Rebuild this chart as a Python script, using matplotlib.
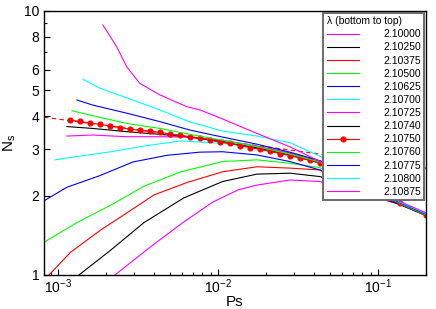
import matplotlib
matplotlib.use('Agg')
import matplotlib.pyplot as plt
from matplotlib.ticker import FixedLocator, NullFormatter, LogLocator

plt.rcParams['font.family'] = ['Liberation Sans', 'DejaVu Sans']
plt.rcParams['mathtext.default'] = 'regular'

# ---------------- data ----------------
lambdas = ['2.10000', '2.10250', '2.10375', '2.10500', '2.10625', '2.10700',
           '2.10725', '2.10740', '2.10750', '2.10760', '2.10775', '2.10800',
           '2.10875']
colors = ['#ff00ff', '#000000', '#ff0000', '#00ff00', '#0000ff', '#00ffff',
          '#ff00ff', '#000000', '#ff0000', '#00ff00', '#0000ff', '#00ffff',
          '#ff00ff']

x_10000 = [2.27e-3, 3.80e-3, 6.13e-3, 9.31e-3, 1.334e-2, 1.75e-2, 2.82e-2, 4.34e-2, 0.137, 0.2]
y_10000 = [1.00, 1.28, 1.59, 1.89, 2.10, 2.19, 2.29, 2.26, 1.85, 1.68]

x_10250 = [1.353e-3, 2.13e-3, 3.45e-3, 6.13e-3, 1.07e-2, 1.75e-2, 2.82e-2, 4.34e-2, 0.137, 0.2]
y_10250 = [1.00, 1.24, 1.58, 1.96, 2.26, 2.41, 2.43, 2.36, 1.85, 1.68]

x_10375 = [8.79e-4, 1.20e-3, 1.848e-3, 2.70e-3, 3.98e-3, 6.40e-3, 1.07e-2, 1.75e-2, 2.82e-2, 4.34e-2, 0.137, 0.2]
y_10375 = [1.00, 1.22, 1.48, 1.72, 2.01, 2.24, 2.46, 2.57, 2.54, 2.50, 1.86, 1.68]

x_10500 = [8.18e-4, 1.315e-3, 2.143e-3, 3.45e-3, 5.87e-3, 1.07e-2, 1.75e-2, 2.82e-2, 4.34e-2, 0.137, 0.2]
y_10500 = [1.33, 1.58, 1.84, 2.17, 2.46, 2.69, 2.73, 2.65, 2.55, 1.86, 1.69]

x_10625 = [8.30e-4, 1.138e-3, 1.83e-3, 2.94e-3, 4.80e-3, 7.72e-3, 1.07e-2, 1.75e-2, 2.82e-2, 4.34e-2, 0.137, 0.2]
y_10625 = [1.92, 2.15, 2.38, 2.68, 2.84, 2.92, 2.93, 2.85, 2.69, 2.50, 1.86, 1.69]

x_10700 = [9.58e-4, 1.315e-3, 2.143e-3, 3.45e-3, 5.87e-3, 1.07e-2, 1.75e-2, 2.82e-2, 4.34e-2, 0.137, 0.2]
y_10700 = [2.73, 2.81, 2.93, 3.08, 3.22, 3.15, 3.06, 2.89, 2.65, 1.87, 1.69]

x_10725 = [1.138e-3, 1.655e-3, 2.70e-3, 4.34e-3, 6.68e-3, 1.07e-2, 1.75e-2, 2.82e-2, 4.34e-2, 0.137, 0.2]
y_10725 = [3.36, 3.39, 3.34, 3.34, 3.33, 3.24, 3.08, 2.90, 2.68, 1.87, 1.69]

x_10740 = [1.138e-3, 1.655e-3, 2.70e-3, 4.34e-3, 6.68e-3, 1.07e-2, 1.75e-2, 2.82e-2, 4.34e-2, 0.137, 0.2]
y_10740 = [3.65, 3.59, 3.49, 3.41, 3.33, 3.19, 3.03, 2.85, 2.66, 1.87, 1.69]

x_10750 = [1.189e-3, 1.372e-3, 1.585e-3, 1.830e-3, 2.113e-3, 2.44e-3, 2.818e-3,
           3.25e-3, 3.76e-3, 4.34e-3, 5.01e-3, 5.79e-3, 6.68e-3, 7.72e-3,
           8.91e-3, 1.029e-2, 1.189e-2, 1.372e-2, 1.585e-2, 1.83e-2, 2.113e-2,
           2.44e-2, 2.818e-2, 3.25e-2, 3.76e-2, 4.34e-2, 0.137, 0.2]
y_10750 = [3.86, 3.815, 3.765, 3.72, 3.67, 3.62, 3.57, 3.53, 3.50, 3.47, 3.42,
           3.38, 3.33, 3.29, 3.25, 3.19, 3.15, 3.09, 3.04, 2.99, 2.94, 2.885,
           2.835, 2.775, 2.715, 2.655, 1.87, 1.69]

x_10760 = [1.223e-3, 1.655e-3, 2.70e-3, 4.34e-3, 6.68e-3, 1.07e-2, 1.75e-2, 2.82e-2, 4.34e-2, 0.137, 0.2]
y_10760 = [4.19, 4.01, 3.75, 3.59, 3.41, 3.24, 3.07, 2.87, 2.68, 1.87, 1.69]

x_10775 = [1.315e-3, 1.655e-3, 2.70e-3, 4.34e-3, 6.68e-3, 1.07e-2, 1.75e-2, 2.82e-2, 4.34e-2, 0.137, 0.2]
y_10775 = [4.60, 4.40, 4.10, 3.81, 3.54, 3.33, 3.13, 2.92, 2.71, 1.88, 1.70]

x_10800 = [1.433e-3, 1.83e-3, 2.94e-3, 4.34e-3, 6.68e-3, 1.07e-2, 1.75e-2, 2.82e-2, 4.34e-2, 0.137, 0.2]
y_10800 = [5.51, 5.10, 4.60, 4.22, 3.80, 3.51, 3.36, 3.17, 2.82, 1.89, 1.71]

x_10875 = [1.91e-3, 2.33e-3, 2.69e-3, 3.25e-3, 4.34e-3, 6.40e-3, 7.72e-3, 1.07e-2, 1.75e-2, 2.82e-2, 4.34e-2, 0.137, 0.2]
y_10875 = [8.85, 7.32, 6.15, 5.32, 4.81, 4.34, 4.22, 3.90, 3.44, 3.06, 2.69, 1.90, 1.72]

fit_x = [8.18e-4, 0.2]
fit_y = [3.96, 2.54]

series_x = [x_10000, x_10250, x_10375, x_10500, x_10625, x_10700, x_10725,
            x_10740, x_10750, x_10760, x_10775, x_10800, x_10875]
series_y = [y_10000, y_10250, y_10375, y_10500, y_10625, y_10700, y_10725,
            y_10740, y_10750, y_10760, y_10775, y_10800, y_10875]

y_ticks = [1, 2, 3, 4, 5, 6, 8, 10]
y_minor = [7, 9]

# ---------------- figure ----------------
fig = plt.figure(figsize=(4.36, 3.09), dpi=100)
ax = fig.add_axes([44 / 436, 34 / 309, 382 / 436, 264 / 309])

ax.plot(fit_x, fit_y, color='#ff0000', lw=0.8, ls=(0, (4, 3)), zorder=1)

for lab, c, xs, ys in zip(lambdas, colors, series_x, series_y):
    if lab == '2.10750':
        ax.plot(xs, ys, color=c, lw=0.8, marker='o', ms=3.4, mec=c, mfc=c,
                label=lab, zorder=2)
    else:
        ax.plot(xs, ys, color=c, lw=0.8, label=lab, zorder=2)

ax.set_xscale('log')
ax.set_yscale('log')
ax.set_xlim(8.18e-4, 0.2)
ax.set_ylim(1, 10)

ax.yaxis.set_major_locator(FixedLocator(y_ticks))
ax.set_yticklabels([str(v) for v in y_ticks])
ax.yaxis.set_minor_locator(FixedLocator(y_minor))
ax.yaxis.set_minor_formatter(NullFormatter())
ax.xaxis.set_major_locator(LogLocator(base=10))
ax.xaxis.set_minor_locator(LogLocator(base=10, subs=range(2, 10)))
ax.xaxis.set_minor_formatter(NullFormatter())

ax.tick_params(which='both', direction='in', labelsize=10, width=0.8)
ax.tick_params(which='major', length=4)
ax.tick_params(which='minor', length=2)
ax.tick_params(axis='x', which='major', pad=2)
for s in ax.spines.values():
    s.set_linewidth(1.0)

ax.set_xlabel('Ps', fontsize=11, labelpad=-1)
ax.set_ylabel('N$_s$', fontsize=11, labelpad=4)

leg = ax.legend(loc='upper right', bbox_to_anchor=(1.0, 1.0), borderaxespad=0.15,
                title='λ (bottom to top)', fontsize=7.5, title_fontsize=7.5,
                alignment='left', handlelength=3.1, handletextpad=2.3,
                labelspacing=0.3, borderpad=0.35, fancybox=False, framealpha=1,
                edgecolor='#6a6a6a')
leg.get_frame().set_linewidth(1.4)
leg.set_zorder(5)

fig.savefig('out.png', dpi=100)
